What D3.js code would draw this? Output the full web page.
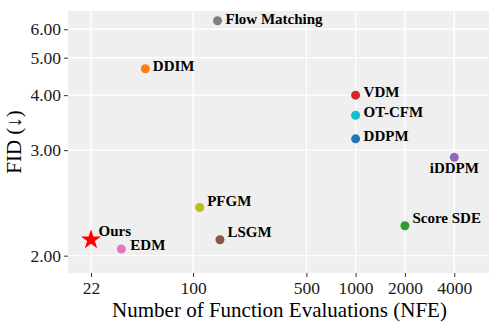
<!DOCTYPE html>
<html>
<head>
<meta charset="utf-8">
<script src="https://cdn.jsdelivr.net/npm/d3@7"></script>
<style>
  html, body { margin: 0; padding: 0; background: #ffffff; }
  svg { display: block; }
</style>
</head>
<body>
<svg id="chart" width="498" height="322" font-family="Liberation Serif, Times New Roman, DejaVu Serif, serif"></svg>
<script>
// ---- data ----
const methods = ["Flow Matching", "DDIM", "VDM", "OT-CFM", "DDPM", "iDDPM", "Score SDE", "PFGM", "LSGM", "EDM", "Ours"];
const nfe     = [142, 50, 1000, 1000, 1000, 4000, 2000, 110, 147, 35, 22];
const fid     = [6.35, 4.67, 4.00, 3.58, 3.17, 2.90, 2.20, 2.35, 2.10, 2.04, 2.10];
const xTicks  = [22, 100, 500, 1000, 2000, 4000];
const xTickLabels = ["22", "100", "500", "1000", "2000", "4000"];
const yTicks  = [2, 3, 4, 5, 6];
const yTickLabels = ["2.00", "3.00", "4.00", "5.00", "6.00"];

// ---- styles ----
const FONT = "Liberation Serif, Times New Roman, DejaVu Serif, serif";
const colors = {
  "Flow Matching": "#7f7f7f", "DDIM": "#ff7f0e", "VDM": "#d62728", "OT-CFM": "#17becf",
  "DDPM": "#1f77b4", "iDDPM": "#9467bd", "Score SDE": "#2ca02c", "PFGM": "#bcbd22",
  "LSGM": "#8c564b", "EDM": "#e377c2", "Ours": "#ff0000"
};
// label placement: [dx, dy, anchor]
const labelPlace = {
  "Flow Matching": [8, 3, "start"], "DDIM": [7.5, 2.5, "start"], "VDM": [8, 2, "start"],
  "OT-CFM": [8, 2, "start"], "DDPM": [8, 2, "start"], "iDDPM": [0, 16, "middle"],
  "Score SDE": [7.5, -2.4, "start"], "PFGM": [7.5, -1.3, "start"], "LSGM": [7.5, -2.6, "start"],
  "EDM": [9, 0.6, "start"], "Ours": [7.5, -3.3, "start"]
};

const W = 498, H = 322;
const margin = { top: 11, right: 9, bottom: 49, left: 68 };
const svg = d3.select("#chart");

// transformed (shifted-log) axes
const xf = v => Math.log2(v + 2.5);
const yf = v => Math.log(v - 1.3);

const x = d3.scaleLinear().domain([xf(15.24), xf(6510)]).range([margin.left, W - margin.right]);
const y = d3.scaleLinear().domain([yf(1.905), yf(6.78)]).range([H - margin.bottom, margin.top]);

// panel
svg.append("rect")
  .attr("x", margin.left).attr("y", margin.top)
  .attr("width", W - margin.left - margin.right)
  .attr("height", H - margin.top - margin.bottom)
  .attr("fill", "#efefef");

// grid
const grid = svg.append("g");
grid.selectAll(".vx").data(xTicks).enter().append("line")
  .attr("x1", d => x(xf(d))).attr("x2", d => x(xf(d)))
  .attr("y1", margin.top).attr("y2", H - margin.bottom)
  .attr("stroke", "#ffffff").attr("stroke-width", 1.3);
grid.selectAll(".hy").data(yTicks).enter().append("line")
  .attr("y1", d => y(yf(d))).attr("y2", d => y(yf(d)))
  .attr("x1", margin.left).attr("x2", W - margin.right)
  .attr("stroke", "#ffffff").attr("stroke-width", 1.3);

// axes
const xAxis = d3.axisBottom(x).tickValues(xTicks.map(xf))
  .tickFormat((d, i) => xTickLabels[i]).tickSize(4).tickPadding(5);
const yAxis = d3.axisLeft(y).tickValues(yTicks.map(yf))
  .tickFormat((d, i) => yTickLabels[i]).tickSize(4).tickPadding(3);

const gx = svg.append("g").attr("transform", `translate(0,${H - margin.bottom})`).call(xAxis);
const gy = svg.append("g").attr("transform", `translate(${margin.left},0)`).call(yAxis);
[gx, gy].forEach(g => {
  g.attr("font-family", FONT).attr("font-size", 17.5);
  g.select(".domain").remove();
  g.selectAll(".tick line").attr("stroke", "#333333").attr("stroke-width", 1);
  g.selectAll(".tick text").attr("fill", "#1a1a1a")
    .attr("font-family", FONT).attr("font-size", 17.5);
});

// axis titles
svg.append("text")
  .attr("x", (margin.left + W - margin.right) / 2 + 1)
  .attr("y", 316.5)
  .attr("text-anchor", "middle")
  .attr("fill", "#000")
  .attr("font-family", FONT).attr("font-size", 21)
  .text("Number of Function Evaluations (NFE)");

svg.append("text")
  .attr("transform", `translate(20.5,${(margin.top + H - margin.bottom) / 2}) rotate(-90)`)
  .attr("text-anchor", "middle")
  .attr("fill", "#000")
  .attr("font-family", FONT).attr("font-size", 21)
  .text("FID (↓)");

// points
const pts = methods.map((m, i) => ({ m, n: nfe[i], f: fid[i] }));
const g = svg.append("g");
g.selectAll("circle").data(pts.filter(d => d.m !== "Ours")).enter().append("circle")
  .attr("cx", d => x(xf(d.n))).attr("cy", d => y(yf(d.f)))
  .attr("r", 4.5).attr("fill", d => colors[d.m]);

g.selectAll("path.star").data(pts.filter(d => d.m === "Ours")).enter().append("path")
  .attr("class", "star")
  .attr("transform", d => `translate(${x(xf(d.n))},${y(yf(d.f))})`)
  .attr("d", d3.symbol(d3.symbolStar, 125))
  .attr("fill", d => colors[d.m]);

// labels
g.selectAll("text.lab").data(pts).enter().append("text")
  .attr("class", "lab")
  .attr("x", d => x(xf(d.n)) + labelPlace[d.m][0])
  .attr("y", d => y(yf(d.f)) + labelPlace[d.m][1])
  .attr("text-anchor", d => labelPlace[d.m][2])
  .attr("fill", "#000")
  .attr("font-family", FONT).attr("font-size", 15).attr("font-weight", "bold")
  .text(d => d.m);
</script>
</body>
</html>
